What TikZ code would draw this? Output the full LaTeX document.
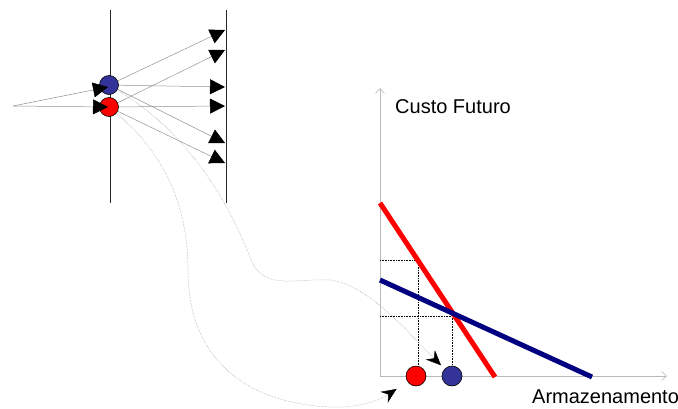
\documentclass[tikz,border=0pt]{standalone}
\usepackage{fontspec}
\setmainfont{Liberation Sans}
\usetikzlibrary{arrows.meta}
\definecolor{cblue}{HTML}{333399}
\definecolor{cnavy}{HTML}{000080}
\definecolor{cred}{HTML}{FF0000}
\begin{document}
\begin{tikzpicture}[x=1pt,y=-1pt,
  dot/.style={circle,draw=black,line width=0.6pt,minimum size=19pt,inner sep=0pt},
  dotb/.style={dot,minimum size=20pt},
  ray/.style={draw=gray!85,line width=0.5pt,-{Triangle[length=15pt,width=15pt,color=black]}},
  wall/.style={draw=black!85,line width=0.8pt},
  axis/.style={draw=gray!55,line width=0.8pt,-{Straight Barb[length=5pt,width=9pt,line width=0.6pt]}},
  curv/.style={draw=gray!75,densely dotted,line width=0.5pt,-{Stealth[length=15pt,width=13pt,inset=5pt,color=black]}},
  guide/.style={draw=black,densely dotted,line width=0.6pt},
  lbl/.style={inner sep=0pt,font=\fontsize{20}{24}\selectfont}]
\useasboundingbox (0,0) rectangle (678,408);
% walls
\coordinate (w1t) at (110,10); \coordinate (w1b) at (110,203);
\coordinate (w2t) at (226,10); \coordinate (w2b) at (226,203);
\draw[wall] (w1t) -- (w1b);
\draw[wall] (w2t) -- (w2b);
% top circles
\node[dot,fill=cblue] (bt) at (109,85) {};
\node[dot,fill=cred] (rt) at (109,107) {};
% ray targets
\coordinate (b1) at (225,30);
\coordinate (b2) at (225,87);
\coordinate (b3) at (225,143);
\coordinate (r1) at (225,50);
\coordinate (r2) at (225,106);
\coordinate (r3) at (225,163);
\coordinate (src) at (13,106);
\draw[ray] (bt) -- (b1);
\draw[ray] (bt) -- (b2);
\draw[ray] (bt) -- (b3);
\draw[ray] (rt) -- (r1);
\draw[ray] (rt) -- (r2);
\draw[ray] (rt) -- (r3);
\draw[ray] (src) -- ([xshift=-1pt,yshift=-2pt]bt.center);
\draw[ray] (src) -- ([xshift=-1pt]rt.center);
% axes
\coordinate (O) at (380,376);
\coordinate (ytop) at (380,88);
\coordinate (xend) at (667,376);
\draw[axis] (O) -- (ytop);
\draw[axis] (O) -- (xend);
\node[lbl,anchor=base west] (cf) at (395,113) {Custo Futuro};
\node[lbl,anchor=base west] (arm) at (532,403) {Armazenamento};
% guide lines
\draw[guide] (380,260) -- (418,260) -- (418,366);
\draw[guide] (380,316) -- (452,316) -- (452,366);
% cost lines
\draw[cred,line width=5pt] (380,203) -- (495,377);
\draw[cnavy,line width=5pt] (380,280) -- (592,377);
% bottom circles
\node[dotb,fill=cred] (rb) at (416,376) {};
\node[dotb,fill=cblue] (bb) at (452,376) {};
% curves
\draw[curv,shorten >=13pt] (rt) .. controls (160,150) and (188,200) .. (188,270)
  .. controls (188,370) and (260,405) .. (333,407)
  .. controls (360,408) and (380,400) .. (rb);
\draw[curv,shorten >=5pt] (bt) .. controls (200,140) and (235,220) .. (250,257)
  .. controls (262,292) and (295,278) .. (330,280)
  .. controls (370,285) and (410,335) .. (bb);
\end{tikzpicture}
\end{document}
